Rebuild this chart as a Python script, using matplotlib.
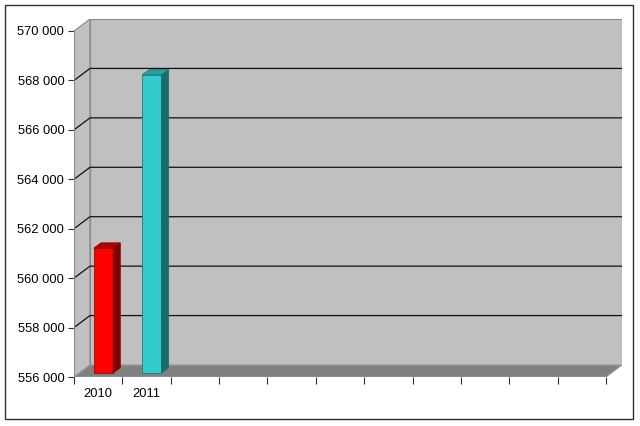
import matplotlib
matplotlib.use("Agg")
import matplotlib.pyplot as plt
from matplotlib.patches import Polygon, Rectangle

# ---- data ----
categories = ["2010", "2011", "", "", "", "", "", "", "", "", ""]
values = [561050, 568060]
bar_front = ["#FF0000", "#33CCCC"]
bar_side = ["#800000", "#1B6B6B"]
bar_top = ["#B00000", "#2A9F9F"]
y_ticks = [556000, 558000, 560000, 562000, 564000, 566000, 568000, 570000]

YMIN, YMAX = 556000, 570000
n = len(categories)

plt.rcParams["font.family"] = ["Liberation Sans", "DejaVu Sans"]
fig = plt.figure(figsize=(6.4, 4.26), dpi=100)

# axes spanning front plane plus depth offset
W, H = 640, 426
ax = fig.add_axes([74 / W, (H - 377) / H, 548 / W, 358 / H])
px_per_cat = 532 / n
px_per_val = 346 / (YMAX - YMIN)
DX = 16 / px_per_cat
DY = 12 / px_per_val
ax.set_xlim(0, n + DX)
ax.set_ylim(YMIN, YMAX + DY)
for s in ax.spines.values():
    s.set_visible(False)
ax.set_facecolor("none")

wall = "#C0C0C0"
edge = "#8A8A8A"
# left wall
ax.add_patch(Polygon([(0, YMIN), (DX, YMIN + DY), (DX, YMAX + DY), (0, YMAX)],
                     closed=True, fc=wall, ec=edge, lw=0.8, zorder=1))
# back wall
ax.add_patch(Polygon([(DX, YMIN + DY), (n + DX, YMIN + DY), (n + DX, YMAX + DY), (DX, YMAX + DY)],
                     closed=True, fc=wall, ec=edge, lw=0.8, zorder=1))
# floor
ax.add_patch(Polygon([(0, YMIN), (n, YMIN), (n + DX, YMIN + DY), (DX, YMIN + DY)],
                     closed=True, fc="#808080", ec="#9A9A9A", lw=0.8, zorder=2))
# gridlines
for v in y_ticks[1:-1]:
    ax.plot([0, DX, n + DX], [v, v + DY, v + DY], color="#111111", lw=0.9, zorder=3)
# front axis lines
ax.plot([0, 0], [YMIN, YMAX], color="#8A8A8A", lw=0.8, zorder=3)
ax.plot([0, n], [YMIN, YMIN], color="#606060", lw=0.8, zorder=3)

# bars
f, b = 0.33, 0.78
w = 0.4
dd = (b - f) * DX
for i, v in enumerate(values):
    c = i + 0.5
    x0 = c - w / 2 + f * DX
    x1 = c + w / 2 + f * DX
    base_f = YMIN + f * DY
    base_b = YMIN + b * DY
    top_f = v + f * DY
    top_b = v + b * DY
    ax.bar(x0, top_f - base_f, bottom=base_f, width=w, align="edge",
           color=bar_front[i], edgecolor=bar_side[i], lw=0.5, zorder=5)
    ax.add_patch(Polygon([(x1, base_f), (x1 + dd, base_b), (x1 + dd, top_b), (x1, top_f)],
                         closed=True, fc=bar_side[i], ec=bar_side[i], lw=0.5, zorder=5))
    ax.add_patch(Polygon([(x0, top_f), (x1, top_f), (x1 + dd, top_b), (x0 + dd, top_b)],
                         closed=True, fc=bar_top[i], ec=bar_side[i], lw=0.5, zorder=5))

# ticks
ax.set_yticks(y_ticks)
ax.set_yticklabels([f"{t:,}".replace(",", " ") for t in y_ticks])
ax.tick_params(axis="y", direction="out", length=4, width=0.8, color="#303030",
               pad=3, labelsize=9.3)
ax.set_xticks(range(n + 1))
ax.set_xticklabels([""] * (n + 1))
ax.set_xticks([i + 0.5 for i in range(n)], minor=True)
ax.set_xticklabels(categories, minor=True)
ax.tick_params(axis="x", which="major", direction="out", length=5, width=0.8, color="#303030")
ax.tick_params(axis="x", which="minor", length=0, pad=8, labelsize=9.3)

# outer border
fig.patches.append(Rectangle((5 / W, (H - 419) / H), 628 / W, 414 / H,
                             transform=fig.transFigure, fill=False, ec="#303030", lw=1))

fig.savefig("out.png", dpi=100)
